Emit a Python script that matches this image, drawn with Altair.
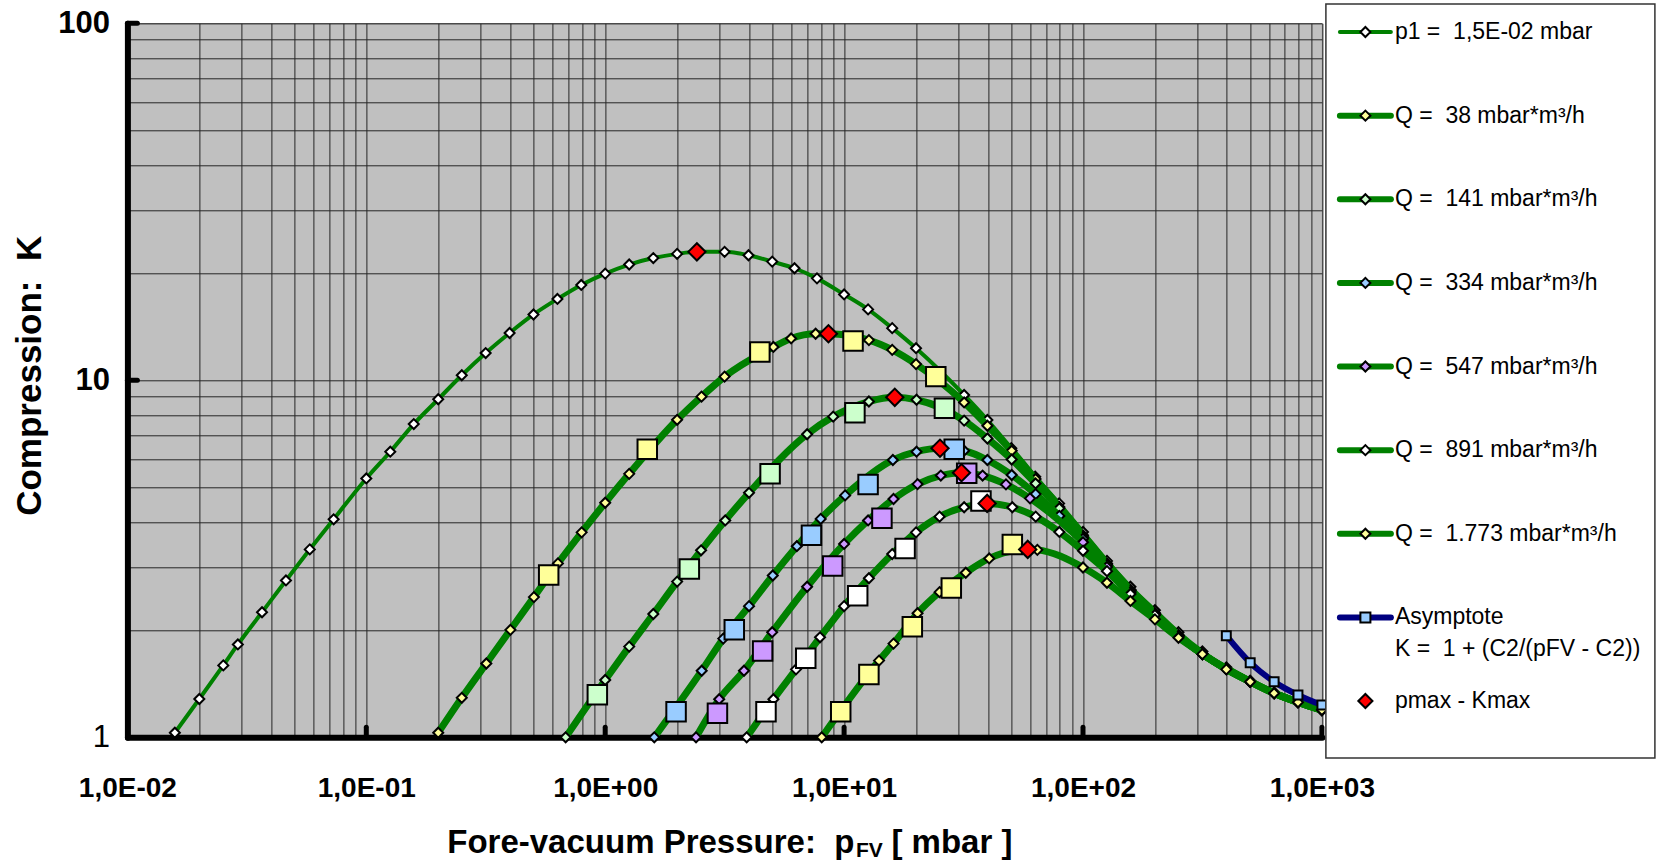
import altair as alt
import pandas as pd

# ---------------- data ----------------
# p1 = 1,5E-02 mbar (constant inlet pressure)
p1_x = [0.0158, 0.020, 0.0252, 0.029, 0.0366, 0.0461, 0.058, 0.073, 0.1, 0.126, 0.158, 0.2,
        0.251, 0.316, 0.398, 0.501, 0.631, 0.794, 1.0, 1.26, 1.59, 2.0, 3.16, 3.98, 5.0, 6.2,
        7.7, 10, 12.6, 15.9, 20, 31.8, 39.8, 50.1, 63.1, 79.4, 100, 126, 158, 200, 251, 316,
        398, 501, 631, 794, 1000]
p1_K = [1.03, 1.28, 1.59, 1.82, 2.24, 2.75, 3.36, 4.08, 5.31, 6.31, 7.54, 8.85,
        10.33, 11.92, 13.57, 15.29, 16.9, 18.5, 19.9, 21.1, 22.0, 22.6, 22.9, 22.4, 21.5, 20.6,
        19.3, 17.4, 15.8, 14.0, 12.3, 9.1, 7.74, 6.45, 5.37, 4.52, 3.76, 3.12, 2.64, 2.27, 1.97, 1.74,
        1.57, 1.44, 1.335, 1.257, 1.195]

q38_x = [0.2, 0.251, 0.318, 0.401, 0.503, 0.634, 0.797, 1.0, 1.26, 2.0, 2.53, 3.16, 5.06, 6.0,
         7.6, 12.7, 15.9, 20, 31.8, 39.8, 50.3, 63.3, 79.6, 100, 126, 158, 200, 251, 316, 398,
         501, 631, 794, 1000]
q38_K = [1.03, 1.29, 1.61, 2.0, 2.47, 3.07, 3.75, 4.54, 5.47, 7.75, 9.0, 10.24, 12.4, 13.1,
         13.5, 12.96, 12.17, 11.1, 8.67, 7.46, 6.35, 5.29, 4.42, 3.68, 3.07, 2.59, 2.23, 1.93,
         1.71, 1.56, 1.435, 1.33, 1.255, 1.193]

q141_x = [0.683, 1.0, 1.26, 1.59, 2.0, 2.52, 3.18, 4.0, 7.0, 9.0, 12.7, 20.1, 31.8, 39.8, 50.3,
          63.3, 79.6, 100, 126, 158, 200, 251, 316, 398, 501, 631, 794, 1000]
q141_K = [1.0, 1.447, 1.795, 2.215, 2.73, 3.34, 4.05, 4.84, 7.06, 7.91, 8.72, 8.82, 7.71, 6.87,
          6.0, 5.14, 4.38, 3.64, 3.06, 2.58, 2.22, 1.93, 1.71, 1.555, 1.433, 1.33, 1.254, 1.192]

q334_x = [1.605, 2.535, 3.12, 4.0, 5.03, 6.34, 7.98, 10.1, 16.0, 20.1, 31.8, 39.8, 50.3, 63.3,
          79.6, 100, 126, 158, 200, 251, 316, 398, 501, 631, 794, 1000]
q334_K = [1.0, 1.536, 1.89, 2.33, 2.84, 3.43, 4.09, 4.76, 5.98, 6.31, 6.35, 5.98, 5.43, 4.80,
          4.17, 3.6, 3.04, 2.57, 2.22, 1.93, 1.71, 1.555, 1.432, 1.329, 1.254, 1.192]

q547_x = [2.40, 3.0, 3.81, 5.0, 7.0, 10, 12.6, 16.1, 20.3, 25.4, 38, 47.6, 60, 100, 126, 158,
          200, 251, 316, 398, 501, 631, 794, 1000]
q547_K = [1.0, 1.278, 1.536, 1.97, 2.64, 3.48, 4.05, 4.65, 5.12, 5.41, 5.41, 5.11, 4.67, 3.52,
          3.0, 2.55, 2.21, 1.92, 1.71, 1.553, 1.432, 1.329, 1.254, 1.192]

q891_x = [3.91, 5.06, 6.29, 7.93, 10.0, 12.7, 15.9, 20.0, 25.1, 31.8, 50.6, 63.4, 79.6, 100,
          126, 158, 200, 251, 316, 398, 501, 631, 794, 1000]
q891_K = [1.0, 1.278, 1.55, 1.906, 2.33, 2.79, 3.26, 3.75, 4.15, 4.41, 4.41, 4.15, 3.76, 3.33,
          2.92, 2.52, 2.2, 1.92, 1.71, 1.552, 1.431, 1.329, 1.254, 1.192]

q1773_x = [8.06, 14.0, 16.1, 20.3, 25.1, 32.3, 40.5, 64.4, 100, 126, 158, 200, 251, 316, 398,
           501, 631, 794, 1000]
q1773_K = [1.0, 1.64, 1.83, 2.226, 2.55, 2.89, 3.17, 3.35, 2.99, 2.71, 2.41, 2.14, 1.90, 1.71,
           1.55, 1.431, 1.328, 1.253, 1.192]

# large square markers on each Q curve
sq38_x = [0.58, 1.5, 4.44, 10.9, 24.2]
sq38_K = [2.85, 6.41, 12.0, 12.88, 10.24]
sq141_x = [0.927, 2.25, 4.9, 11.1, 26.3]
sq141_K = [1.316, 2.96, 5.47, 8.11, 8.35]
sq334_x = [1.98, 3.47, 7.3, 12.6, 28.9]
sq334_K = [1.18, 2.0, 3.68, 5.11, 6.41]
sq547_x = [2.95, 4.56, 8.96, 14.4, 32.6]
sq547_K = [1.167, 1.744, 3.02, 4.11, 5.49]
sq891_x = [4.71, 6.91, 11.4, 18.0, 37.4]
sq891_K = [1.18, 1.664, 2.49, 3.38, 4.59]
sq1773_x = [9.68, 12.7, 19.3, 28.1, 50.6]
sq1773_K = [1.18, 1.50, 2.04, 2.62, 3.47]

# maximum of each curve (pmax, Kmax), in curve order p1, Q38 ... Q1773
pmax_x = [2.42, 8.6, 16.3, 25.2, 31.0, 39.7, 58.7]
kmax_K = [22.9, 13.5, 8.96, 6.45, 5.51, 4.52, 3.36]

# asymptote K = 1 + C2/(pFV - C2)
asym_x = [398, 501, 631, 794, 1000]
asym_K = [1.926, 1.618, 1.431, 1.314, 1.231]

SP2 = "\u00a0\u00a0"  # double space that survives SVG whitespace collapsing
legend_labels = ["p1 =" + SP2 + "1,5E-02 mbar", "Q =" + SP2 + "38 mbar*m³/h",
                 "Q =" + SP2 + "141 mbar*m³/h", "Q =" + SP2 + "334 mbar*m³/h",
                 "Q =" + SP2 + "547 mbar*m³/h", "Q =" + SP2 + "891 mbar*m³/h",
                 "Q =" + SP2 + "1.773 mbar*m³/h", "Asymptote", "pmax - Kmax"]
asym_formula = "K =" + SP2 + "1 + (C2/(pFV - C2))"

x_decades = [0.01, 0.1, 1, 10, 100, 1000]
y_decades = [1, 10, 100]

# ---------------- styling ----------------
GREEN = "#008000"
NAVY = "#000080"
W, H = 1194.5, 714
FONT = "Liberation Sans"

x_grid = [m * 10.0 ** e for e in range(-2, 3) for m in range(1, 10)] + [1000.0]
y_grid = [m * 10.0 ** e for e in range(0, 2) for m in range(1, 10)] + [100.0]

is_dec = "abs(log(datum.value)/LN10 - round(log(datum.value)/LN10)) < 0.001"
expo = "round(log(datum.value)/LN10)"
x_label = f"{is_dec} ? ('1,0E' + ({expo} < 0 ? '-' : '+') + '0' + abs({expo})) : ''"
y_label = f"{is_dec} ? ('' + round(datum.value)) : ''"

xscale = alt.Scale(type="log", domain=[0.01, 1000], nice=False)
yscale = alt.Scale(type="log", domain=[1, 100], nice=False)

xaxis = alt.Axis(values=x_grid, labelExpr=x_label, title=None, grid=True,
                 gridColor="#262626", gridWidth=1, domainColor="black", domainWidth=6,
                 domainCap="round", ticks=False, labelFont=FONT, labelFontSize=28,
                 labelFontWeight="bold", labelColor="black", labelPadding=37,
                 labelOverlap=False, labelFlush=False, labelBound=False)
yaxis = alt.Axis(values=y_grid, labelExpr=y_label, title="Compression:" + SP2 + "K", grid=True,
                 gridColor="#262626", gridWidth=1, domainColor="black", domainWidth=6,
                 domainCap="round", ticks=False, labelFont=FONT, labelFontSize=31,
                 labelFontWeight={"condition": {"test": "datum.value == 1", "value": "normal"},
                                  "value": "bold"},
                 labelColor="black", labelPadding=18, labelOverlap=False, labelFlush=False,
                 labelBound=False, titleFont=FONT, titleFontSize=35, titleFontWeight="bold",
                 titleColor="black", titleX=-87, titleY=352, titleAngle=270,
                 titleAlign="center", titleBaseline="alphabetic")


def xy():
    return dict(x=alt.X("x:Q", scale=xscale, axis=xaxis),
                y=alt.Y("K:Q", scale=yscale, axis=yaxis))


layers = []

# inward decade ticks on both axes
xt = pd.DataFrame({"x": x_decades[1:]})
layers.append(alt.Chart(xt).mark_rule(color="black", strokeWidth=5, strokeCap="round").encode(
    x=alt.X("x:Q", scale=xscale, axis=xaxis), y=alt.value(H), y2=alt.value(H - 10)))
yt = pd.DataFrame({"K": y_decades[1:]})
layers.append(alt.Chart(yt).mark_rule(color="black", strokeWidth=5, strokeCap="round").encode(
    y=alt.Y("K:Q", scale=yscale, axis=yaxis), x=alt.value(0), x2=alt.value(10)))

curves = [
    (p1_x, p1_K, "#FFFFFF", 4),
    (q38_x, q38_K, "#FFFF99", 7),
    (q141_x, q141_K, "#CCFFCC", 7),
    (q334_x, q334_K, "#99CCFF", 7),
    (q547_x, q547_K, "#CC99FF", 7),
    (q891_x, q891_K, "#FFFFFF", 7),
    (q1773_x, q1773_K, "#FFFF99", 7),
]
squares = [(sq38_x, sq38_K), (sq141_x, sq141_K), (sq334_x, sq334_K),
           (sq547_x, sq547_K), (sq891_x, sq891_K), (sq1773_x, sq1773_K)]

# each curve: line (passing through its maximum) then its small diamonds
for i, (xs, ks, fill, lw) in enumerate(curves):
    pts = pd.DataFrame({"x": xs, "K": ks})
    path = pd.concat([pts, pd.DataFrame({"x": [pmax_x[i]], "K": [kmax_K[i]]})]).sort_values("x")
    layers.append(alt.Chart(path).mark_line(color=GREEN, strokeWidth=lw, interpolate="monotone",
                                            strokeJoin="round").encode(**xy()))
    layers.append(alt.Chart(pts).mark_point(shape="diamond", size=100, filled=True, fill=fill,
                                            stroke="black", strokeWidth=2, opacity=1)
                  .encode(**xy()))

# large squares in the colour of their curve
for (xs, ks), (_, _, fill, _) in zip(squares, curves[1:]):
    layers.append(alt.Chart(pd.DataFrame({"x": xs, "K": ks}))
                  .mark_point(shape="square", size=380, filled=True, fill=fill, stroke="black",
                              strokeWidth=2, opacity=1).encode(**xy()))

asym = pd.DataFrame({"x": asym_x, "K": asym_K})
layers.append(alt.Chart(asym).mark_line(color=NAVY, strokeWidth=6, interpolate="monotone")
              .encode(**xy()))
layers.append(alt.Chart(asym).mark_point(shape="square", size=80, filled=True, fill="#99CCFF",
                                         stroke="black", strokeWidth=2, opacity=1)
              .encode(**xy()))

layers.append(alt.Chart(pd.DataFrame({"x": pmax_x, "K": kmax_K}))
              .mark_point(shape="diamond", size=300, filled=True, fill="#FF0000", stroke="black",
                          strokeWidth=2, opacity=1).encode(**xy()))

# x-axis title with subscript
one = pd.DataFrame({"k": [0]})
title_font = dict(font=FONT, fontWeight="bold", color="black")
layers.append(alt.Chart(one).mark_text(align="right", baseline="alphabetic", fontSize=33,
                                       **title_font)
              .encode(x=alt.value(727), y=alt.value(829.5),
                      text=alt.value("Fore-vacuum Pressure:" + SP2 + "p")))
layers.append(alt.Chart(one).mark_text(align="left", baseline="alphabetic", fontSize=21,
                                       **title_font)
              .encode(x=alt.value(728.5), y=alt.value(833.5), text=alt.value("FV")))
layers.append(alt.Chart(one).mark_text(align="left", baseline="alphabetic", fontSize=33,
                                       **title_font)
              .encode(x=alt.value(764), y=alt.value(829.5), text=alt.value("[ mbar ]")))

plot = alt.layer(*layers)

# ---------------- legend panel ----------------
row_scale = alt.Scale(domain=[0, 8], range=[8.7, 677.7])
LX0, LX1, LXS, LXT = 1212.5, 1263.5, 1238, 1267.5


def row_y():
    return alt.Y("row:Q", scale=row_scale, axis=None)


leg = []
leg.append(alt.Chart(one).mark_rect(fill="white", stroke="#333333", strokeWidth=1.5).encode(
    x=alt.value(1198.5), x2=alt.value(1527.5), y=alt.value(-19.3), y2=alt.value(734.7)))

line_rows = [([0], GREEN, 4), ([1, 2, 3, 4, 5, 6], GREEN, 6), ([7], NAVY, 6)]
for rows, col, lw in line_rows:
    leg.append(alt.Chart(pd.DataFrame({"row": rows})).mark_rule(color=col, strokeWidth=lw,
                                                                 strokeCap="round")
               .encode(y=row_y(), x=alt.value(LX0), x2=alt.value(LX1)))

for r, (_, _, fill, _) in enumerate(curves):
    leg.append(alt.Chart(pd.DataFrame({"row": [r]}))
               .mark_point(shape="diamond", size=100, filled=True, fill=fill, stroke="black",
                           strokeWidth=2, opacity=1)
               .encode(y=row_y(), x=alt.value(LXS)))
leg.append(alt.Chart(pd.DataFrame({"row": [7]}))
           .mark_point(shape="square", size=100, filled=True, fill="#99CCFF", stroke="black",
                       strokeWidth=2, opacity=1)
           .encode(y=row_y(), x=alt.value(LXS)))
leg.append(alt.Chart(pd.DataFrame({"row": [8]}))
           .mark_point(shape="diamond", size=200, filled=True, fill="#FF0000", stroke="black",
                       strokeWidth=2, opacity=1)
           .encode(y=row_y(), x=alt.value(LXS)))

texts = pd.DataFrame({"row": list(range(9)) + [7.38],
                      "label": legend_labels + [asym_formula]})
leg.append(alt.Chart(texts).mark_text(align="left", baseline="middle", fontSize=23, font=FONT,
                                      color="black")
           .encode(y=row_y(), x=alt.value(LXT), text="label:N"))

legend = alt.layer(*leg)

chart = (alt.layer(plot, legend)
         .resolve_scale(y="independent", x="independent")
         .properties(width=W, height=H,
                     padding={"left": 127.4, "top": 23.3, "right": 336.1, "bottom": 124.7},
                     autosize=alt.AutoSizeParams(type="none"), background="white")
         .configure_view(fill="#C0C0C0", stroke="#808080", strokeWidth=1))

chart.save("out.html", embed_options={"renderer": "svg", "actions": False})
